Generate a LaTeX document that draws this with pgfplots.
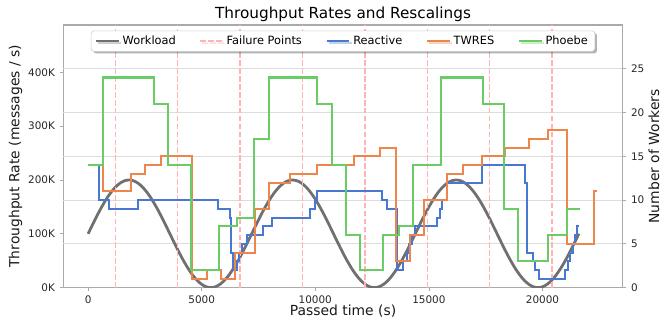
\documentclass[border=0pt]{standalone}
\usepackage{fontspec}
\setmainfont{DejaVu Sans}
\usepackage{pgfplots}
\pgfplotsset{compat=1.18}
\usetikzlibrary{shadows}
\definecolor{cwork}{HTML}{707070}
\definecolor{cfail}{HTML}{FFB3B3}
\definecolor{creact}{HTML}{4878D0}
\definecolor{ctwres}{HTML}{EE854A}
\definecolor{cphoebe}{HTML}{6ACC64}
\definecolor{cgrid}{HTML}{DDDDDD}
\definecolor{cframe}{HTML}{AAAAAA}
\begin{document}
\begin{tikzpicture}
\pgfplotsset{
 common/.style={
  scale only axis, width=402.8pt, height=189.1pt,
  xmin=-1090, xmax=23530,
  tick align=outside, major tick length=2.5pt,
  every tick/.style={cframe, line width=0.6pt},
  axis line style={cframe, line width=0.8pt},
  tick label style={font=\fontsize{7.5}{9}\selectfont, text=black!85},
  label style={font=\fontsize{10}{12}\selectfont, text=black!90},
  /pgf/number format/assume math mode=true,
  /pgf/number format/1000 sep={},
  scaled x ticks=false, scaled y ticks=false,
 }
}
\begin{axis}[common,
  ymin=0, ymax=488,
  xtick={0,5000,10000,15000,20000},
  ytick={0,100,200,300,400}, yticklabels={0K,100K,200K,300K,400K},
  xtick pos=left, ytick pos=left,
  extra y ticks={81.333,162.667,244,325.333,406.667},
  extra y tick labels={},
  extra y tick style={grid=major, major tick length=0pt, major grid style={cgrid, line width=0.8pt}},
  xlabel={Passed time (s)}, ylabel={Throughput Rate (messages / s)},
  xlabel style={at={(axis description cs:0.5,-0.0887)}, anchor=center},
  ylabel style={at={(axis description cs:-0.0856,0.5)}, anchor=center},
  every axis title shift=0pt,
  title={Throughput Rates and Rescalings},
  title style={font=\fontsize{11}{13}\selectfont, at={(axis description cs:0.5,1.042)}, anchor=center},
]
\addplot[cwork, line width=2pt, smooth] coordinates {
(0,100) (200,117.36) (400,134.20) (600,150) (800,164.28) (1000,176.60) (1200,186.60) (1400,193.97) (1600,198.48) (1800,200)
(2000,198.48) (2200,193.97) (2400,186.60) (2600,176.60) (2800,164.28) (3000,150) (3200,134.20) (3400,117.36) (3600,100)
(3800,82.64) (4000,65.80) (4200,50) (4400,35.72) (4600,23.40) (4800,13.40) (5000,6.03) (5200,1.52) (5400,0)
(5600,1.52) (5800,6.03) (6000,13.40) (6200,23.40) (6400,35.72) (6600,50) (6800,65.80) (7000,82.64) (7200,100)
(7400,117.36) (7600,134.20) (7800,150) (8000,164.28) (8200,176.60) (8400,186.60) (8600,193.97) (8800,198.48) (9000,200)
(9200,198.48) (9400,193.97) (9600,186.60) (9800,176.60) (10000,164.28) (10200,150) (10400,134.20) (10600,117.36) (10800,100)
(11000,82.64) (11200,65.80) (11400,50) (11600,35.72) (11800,23.40) (12000,13.40) (12200,6.03) (12400,1.52) (12600,0)
(12800,1.52) (13000,6.03) (13200,13.40) (13400,23.40) (13600,35.72) (13800,50) (14000,65.80) (14200,82.64) (14400,100)
(14600,117.36) (14800,134.20) (15000,150) (15200,164.28) (15400,176.60) (15600,186.60) (15800,193.97) (16000,198.48) (16200,200)
(16400,198.48) (16600,193.97) (16800,186.60) (17000,176.60) (17200,164.28) (17400,150) (17600,134.20) (17800,117.36) (18000,100)
(18200,82.64) (18400,65.80) (18600,50) (18800,35.72) (19000,23.40) (19200,13.40) (19400,6.03) (19600,1.52) (19800,0)
(20000,1.52) (20200,6.03) (20400,13.40) (20600,23.40) (20800,35.72) (21000,50) (21200,65.80) (21400,82.64) (21600,100)
};
\pgfplotsset{failstyle/.style={cfail, line width=1pt, dash pattern=on 4pt off 1.7pt}}
\addplot[failstyle] coordinates {(1200,0) (1200,488)};
\addplot[failstyle] coordinates {(3945,0) (3945,488)};
\addplot[failstyle] coordinates {(6690,0) (6690,488)};
\addplot[failstyle] coordinates {(9435,0) (9435,488)};
\addplot[failstyle] coordinates {(12180,0) (12180,488)};
\addplot[failstyle] coordinates {(14925,0) (14925,488)};
\addplot[failstyle] coordinates {(17670,0) (17670,488)};
\addplot[failstyle] coordinates {(20415,0) (20415,488)};
\end{axis}
\begin{axis}[common,
  ymin=0, ymax=30,
  axis x line=none, axis y line*=right,
  ytick={0,5,10,15,20,25},
  ylabel={Number of Workers},
  ylabel style={at={(axis description cs:1.056,0.5)}, anchor=center},
  legend columns=5,
  legend cell align=left,
  legend image code/.code={\draw[#1] (0pt,0pt) -- (16.5pt,0pt);},
  legend style={at={(0.5,1)}, anchor=north, yshift=-4pt,
    font=\fontsize{8.2}{10}\selectfont, draw=black!20, fill=white,
    rounded corners=2pt, inner xsep=3pt, inner ysep=1.5pt,
    drop shadow={shadow xshift=1.5pt, shadow yshift=-1.5pt, fill=black, opacity=0.3},
    /tikz/every even column/.append style={column sep=15pt}},
]
\addlegendimage{cwork, line width=1.2pt}
\addlegendentry{Workload}
\addlegendimage{cfail, line width=1pt, dash pattern=on 4pt off 1.7pt}
\addlegendentry{Failure Points}
\addplot[creact, line width=1.5pt, const plot] coordinates {
(0,14) (497,10) (911,9) (2201,10) (5735,9) (6250,8) (6300,4) (6369,2) (6545,3) (6646,4) (6791,5) (6985,6) (7716,7) (8085,8)
(9771,9) (9991,10) (10066,11) (12927,10) (13147,9) (13587,2) (13878,3) (14054,4) (14142,5) (14248,6) (14393,7) (15348,8)
(15493,9) (15568,10) (15788,12) (17328,14) (19234,12) (19309,4) (19600,3) (19674,2) (19850,1) (20995,2) (21140,3) (21215,4)
(21360,5) (21435,6) (21510,7) (21624,7)
};
\addlegendentry{Reactive}
\addplot[ctwres, line width=1.5pt, const plot] coordinates {
(0,14) (647,11) (1893,13) (2496,14) (3226,15) (4577,1) (5224,2) (5854,1) (6470,4) (7350,9) (7980,12) (8891,13) (10066,14)
(11708,15) (12852,16) (13543,3) (14173,6) (14789,10) (15788,13) (16492,14) (17328,15) (18341,16) (19410,17) (20260,18)
(21070,5) (22285,11) (22416,11)
};
\addlegendentry{TWRES}
\addplot[cphoebe, line width=1.5pt, const plot] coordinates {
(0,14) (638,24) (2918,21) (3534,14) (4533,2) (5779,7) (6571,8) (7315,17) (7980,24) (10079,21) (10726,14) (11342,6) (11972,2)
(12971,6) (13688,7) (14291,14) (15537,24) (17372,21) (18310,9) (18939,3) (20233,6) (21070,9) (21655,9)
};
\addlegendentry{Phoebe}
\end{axis}
\pgfresetboundingbox
\path (-45.6pt,-25.4pt) rectangle (435.4pt,207.1pt);
\end{tikzpicture}
\end{document}
